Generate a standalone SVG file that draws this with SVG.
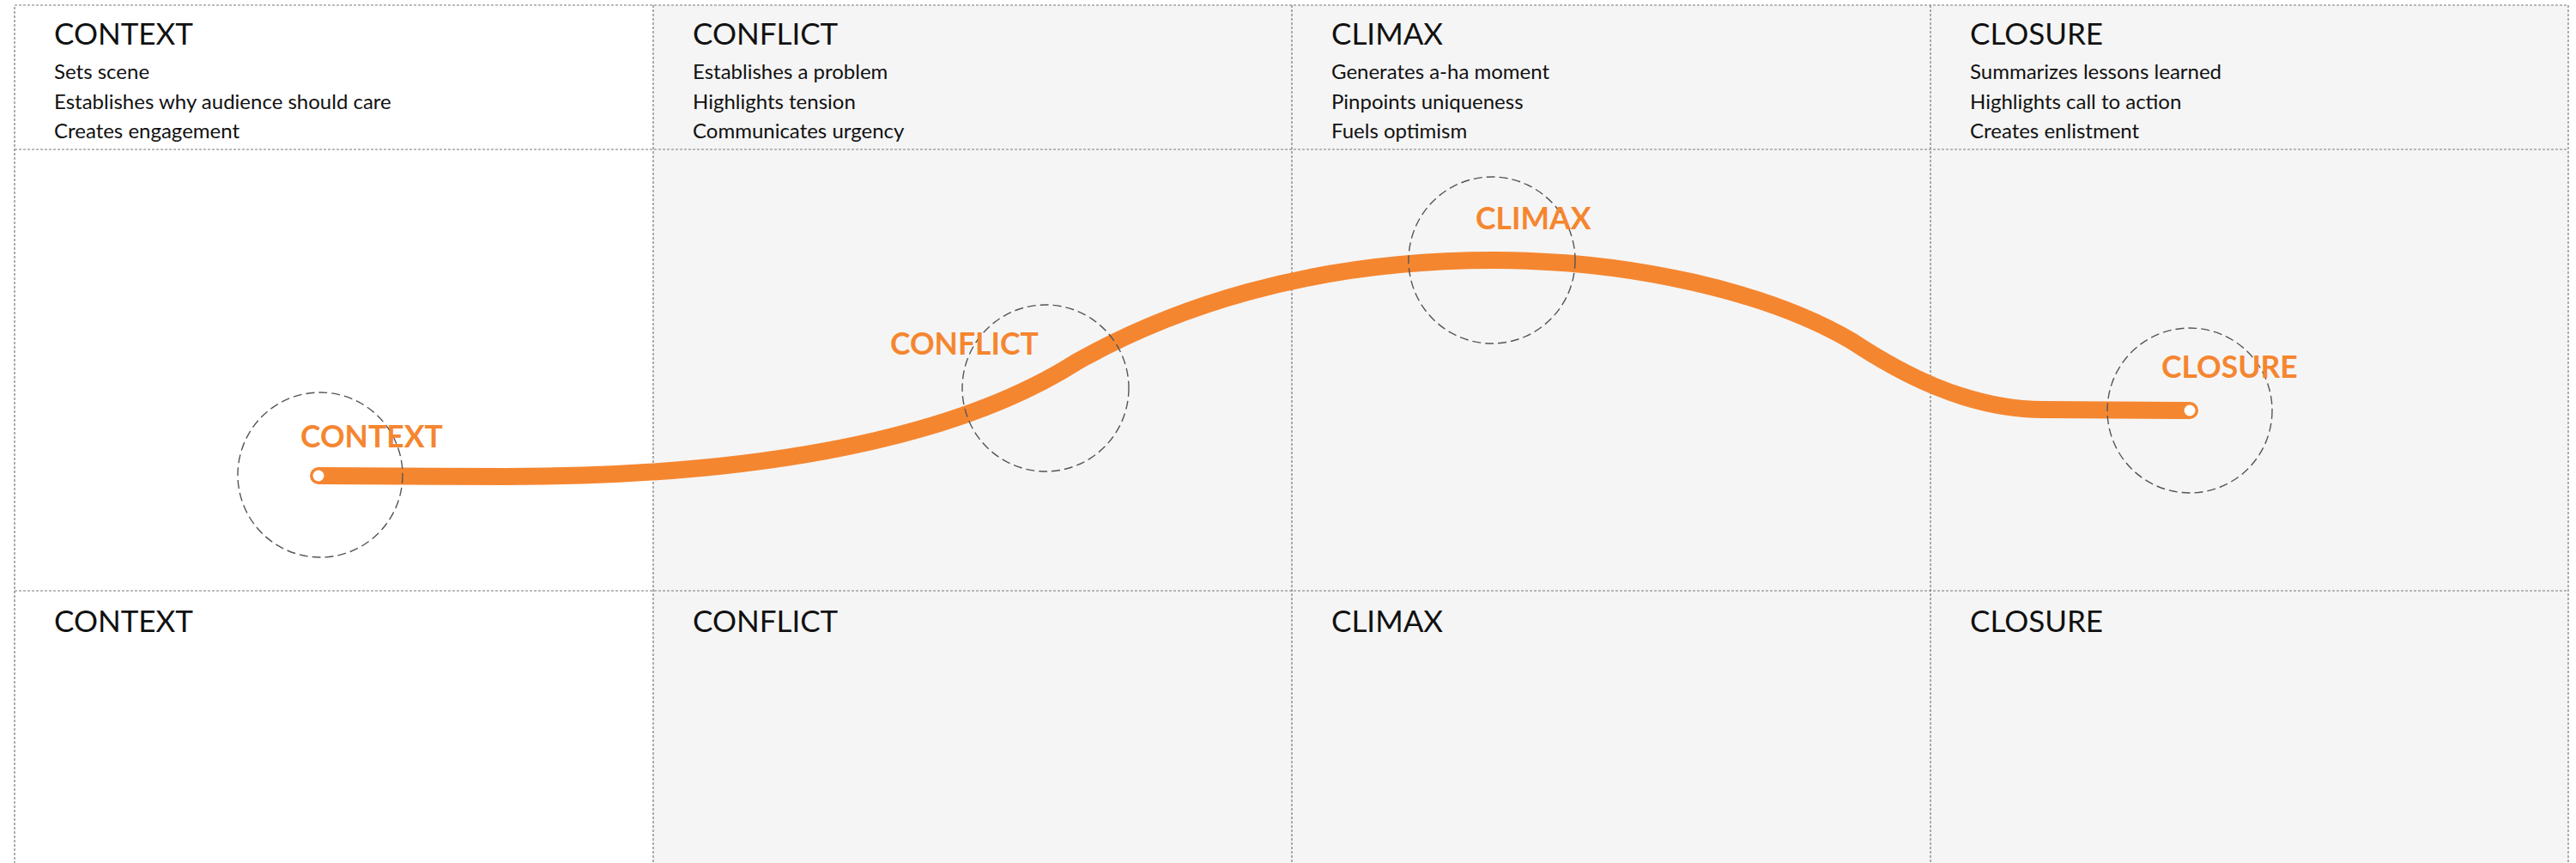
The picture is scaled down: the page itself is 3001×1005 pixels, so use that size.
<svg xmlns="http://www.w3.org/2000/svg" width="3001" height="1005" viewBox="0 0 3001 1005">
<style>
.grid{fill:none;stroke:#7a7a7a;stroke-width:1.2;stroke-dasharray:3 2}
.ring{fill:none;stroke:#555;stroke-width:1.4;stroke-dasharray:10 5}
.hd{font-family:Lato,"Open Sans","Liberation Sans",sans-serif;font-size:35px;fill:#111}
.it{font-family:Lato,"Open Sans","Liberation Sans",sans-serif;font-size:24px;fill:#111}
.lb{font-family:Lato,"Open Sans","Liberation Sans",sans-serif;font-size:35.5px;font-weight:700;fill:#F58630}
.arc{fill:none;stroke:#F58630;stroke-width:20;stroke-linecap:round;stroke-linejoin:round}
.dot{fill:#fff}
</style>
<rect x="0" y="0" width="3001" height="1005" fill="#fff"/>
<rect x="761" y="6" width="2231" height="1010" fill="#f5f5f5"/>
<g id="grid">
<rect class="grid" x="17" y="6" width="2975" height="1010"/>
<line class="grid" x1="761" y1="6" x2="761" y2="1005"/>
<line class="grid" x1="1505" y1="6" x2="1505" y2="1005"/>
<line class="grid" x1="2249" y1="6" x2="2249" y2="1005"/>
<line class="grid" x1="17" y1="174" x2="2992" y2="174"/>
<line class="grid" x1="17" y1="688" x2="2992" y2="688"/>
</g>
<g id="col-context">
<text class="hd" x="63" y="52">CONTEXT</text>
<text class="it" x="63" y="92">Sets scene</text>
<text class="it" x="63" y="126.5">Establishes why audience should care</text>
<text class="it" x="63" y="161">Creates engagement</text>
<text class="hd" x="63" y="736">CONTEXT</text>
</g>
<g id="col-conflict">
<text class="hd" x="807" y="52">CONFLICT</text>
<text class="it" x="807" y="92">Establishes a problem</text>
<text class="it" x="807" y="126.5">Highlights tension</text>
<text class="it" x="807" y="161">Communicates urgency</text>
<text class="hd" x="807" y="736">CONFLICT</text>
</g>
<g id="col-climax">
<text class="hd" x="1551" y="52">CLIMAX</text>
<text class="it" x="1551" y="92">Generates a-ha moment</text>
<text class="it" x="1551" y="126.5">Pinpoints uniqueness</text>
<text class="it" x="1551" y="161">Fuels optimism</text>
<text class="hd" x="1551" y="736">CLIMAX</text>
</g>
<g id="col-closure">
<text class="hd" x="2295" y="52">CLOSURE</text>
<text class="it" x="2295" y="92">Summarizes lessons learned</text>
<text class="it" x="2295" y="126.5">Highlights call to action</text>
<text class="it" x="2295" y="161">Creates enlistment</text>
<text class="hd" x="2295" y="736">CLOSURE</text>
</g>
<g id="connectors">
<path class="arc" d="M371,554 L590,555 C850,555 1100,520 1255,421 C1360,362 1520,303 1740,303 C1900,303 2060,340 2157,397 C2210,432 2290,477 2380,477 L2551,478"/>
</g>
<g id="node-context">
<circle class="ring" cx="373" cy="553" r="96"/>
<circle class="dot" cx="371" cy="554" r="6.5"/>
<text class="lb" x="350" y="521">CONTEXT</text>
</g>
<g id="node-conflict">
<circle class="ring" cx="1218" cy="452" r="97"/>
<text class="lb" x="1037" y="413">CONFLICT</text>
</g>
<g id="node-climax">
<circle class="ring" cx="1738" cy="303" r="97"/>
<text class="lb" x="1719" y="267">CLIMAX</text>
</g>
<g id="node-closure">
<circle class="ring" cx="2551" cy="478" r="96"/>
<circle class="dot" cx="2551" cy="478" r="6.5"/>
<text class="lb" x="2518" y="440">CLOSURE</text>
</g>
</svg>
